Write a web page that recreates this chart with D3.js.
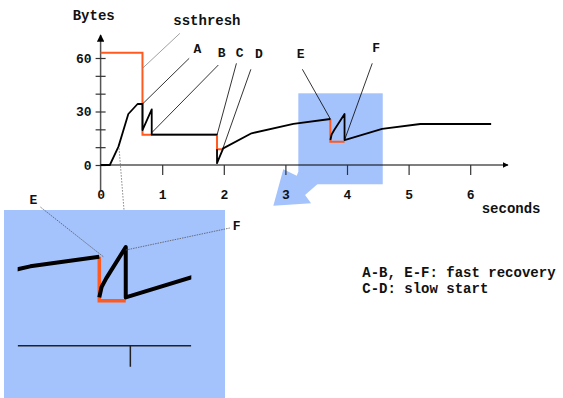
<!DOCTYPE html>
<html>
<head>
<meta charset="utf-8">
<script src="https://cdn.jsdelivr.net/npm/d3@7"></script>
<style>
  body { margin: 0; background: #fff; }
  svg text { font-family: "Liberation Mono", "Courier New", monospace; font-weight: bold; fill: #111; }
</style>
</head>
<body>
<div id="chart"></div>
<script>
// congestion window (black) in time (s) / size, null = gap
const cwndTime = [0, 0.15, 0.29, 0.45, 0.6, 0.68, 0.68, 0.83, 0.83, 1.89, null, 1.89, 1.89, 1.99, 2.45, 3.13, 3.73, null, 3.73, 3.75, 3.79, 3.96, 3.96, 4.57, 5.19, 6.34];
const cwndValue = [0, 0, 10.3, 28.6, 34.2, 34.2, 19.6, 31.2, 17, 17, null, 8.8, 1, 9.3, 17.8, 23, 25.8, null, 14, 17, 19.5, 28.6, 14, 20.2, 23, 23];

// ssthresh (orange), null = gap
const ssTime = [0, 0.68, 0.68, 1.89, 1.89, 1.99, null, 3.73, 3.73, 3.96];
const ssValue = [63, 63, 17, 17, 8.8, 8.8, null, 25.8, 13, 13];

const xTicks = [0, 1, 2, 3, 4, 5, 6];
const yTicks = [0, 10, 20, 30, 40, 50, 60];
const yLabels = [0, 30, 60];

const notes = [
  { text: 'A', t: 0.68, v: 34.2 },
  { text: 'B', t: 0.83, v: 18.1 },
  { text: 'C', t: 1.89, v: 16.8 },
  { text: 'D', t: 1.98, v: 8.8 },
  { text: 'E', t: 3.73, v: 25.8 },
  { text: 'F', t: 3.96, v: 14 }
];
const legendLines = ['A-B, E-F: fast recovery', 'C-D: slow start'];

const cwnd = cwndTime.map((t, i) => ({ t: t, v: cwndValue[i] }));
const ss = ssTime.map((t, i) => ({ t: t, v: ssValue[i] }));

const width = 563;
const height = 398;
const orange = '#ff5a1f';
const blue = '#a4c2fc';

const svg = d3.select('#chart')
  .append('svg')
  .attr('width', width)
  .attr('height', height);

const x = d3.scaleLinear().domain([0, 6.5]).range([100.6, 501]);
const y = d3.scaleLinear().domain([0, 60]).range([165, 58]);

// highlight box + arrow toward the inset
const hx0 = x(3.21), hx1 = x(4.58), hy0 = y(40.2), hy1 = y(-10.8);
svg.append('rect')
  .attr('x', hx0).attr('y', hy0)
  .attr('width', hx1 - hx0).attr('height', hy1 - hy0)
  .attr('fill', blue);

const arrowPts = [[0, -12.6], [-1.6, -8.6], [-15, -15], [-25, 21.4], [12.7, 19], [6.7, 10.7], [19, 0]];
svg.append('polygon')
  .attr('points', arrowPts.map(p => [hx0 + p[0], hy1 + p[1]].join(',')).join(' '))
  .attr('fill', blue);

// arrowheads
const defs = svg.append('defs');
defs.append('marker')
  .attr('id', 'arr')
  .attr('viewBox', '0 0 10 10')
  .attr('refX', 9).attr('refY', 5)
  .attr('markerWidth', 5).attr('markerHeight', 5)
  .attr('orient', 'auto-start-reverse')
  .append('path').attr('d', 'M0,0 L10,5 L0,10 z').attr('fill', '#000');

// x axis
svg.append('line')
  .attr('x1', x(0)).attr('x2', 508)
  .attr('y1', y(0)).attr('y2', y(0))
  .attr('stroke', '#000').attr('stroke-width', 1.2)
  .attr('marker-end', 'url(#arr)');

const xAxis = svg.append('g')
  .attr('transform', `translate(0,${y(0)})`)
  .call(d3.axisBottom(x).tickValues(xTicks).tickSize(10).tickFormat(d3.format('d')));
xAxis.select('.domain').remove();
xAxis.selectAll('.tick line').attr('stroke', '#333').attr('stroke-width', 1.2)
  .filter(d => d === 0).remove();
xAxis.selectAll('.tick text')
  .attr('y', 29).attr('dy', '0.35em')
  .attr('font-size', 13);

svg.append('text')
  .attr('x', 481.7).attr('y', 207.7).attr('dy', '0.35em')
  .attr('font-size', 14)
  .text('seconds');

// y axis
svg.append('line')
  .attr('x1', x(0)).attr('x2', x(0))
  .attr('y1', 190).attr('y2', 35)
  .attr('stroke', '#555').attr('stroke-width', 1.5)
  .attr('marker-end', 'url(#arr)');

const yAxis = svg.append('g')
  .attr('transform', `translate(${x(0)},0)`)
  .call(d3.axisLeft(y).tickValues(yTicks).tickSize(5)
    .tickFormat(d => yLabels.includes(d) ? d : ''));
yAxis.select('.domain').remove();
yAxis.selectAll('.tick line').attr('x1', 5).attr('stroke', '#333').attr('stroke-width', 1.2);
yAxis.selectAll('.tick text').attr('x', -9).attr('font-size', 13);

svg.append('text')
  .attr('x', 72.7).attr('y', 15).attr('dy', '0.35em')
  .attr('font-size', 14)
  .text('Bytes');

// lines
const line = d3.line()
  .defined(d => d.t !== null)
  .x(d => x(d.t))
  .y(d => y(d.v));

svg.append('path')
  .datum(ss)
  .attr('d', line)
  .attr('fill', 'none').attr('stroke', orange).attr('stroke-width', 2);

svg.append('path')
  .datum(cwnd)
  .attr('d', line)
  .attr('fill', 'none').attr('stroke', '#000').attr('stroke-width', 1.8)
  .attr('stroke-linejoin', 'round');

// annotations
const offsets = { A: [46.7, -45.7, 55, -56], B: [66.6, -67.7, 70, -80], C: [19.4, -71.7, 22.7, -82.3],
  D: [28.3, -80, 36.3, -96.3], E: [-28, -49.7, -29.7, -65.7], F: [27.7, -76.7, 31.7, -92.7] };
notes.forEach(n => {
  const o = offsets[n.text];
  const px = x(n.t), py = y(n.v);
  svg.append('line')
    .attr('x1', px).attr('y1', py)
    .attr('x2', px + o[0]).attr('y2', py + o[1])
    .attr('stroke', '#000').attr('stroke-width', 0.8);
  svg.append('text')
    .attr('x', px + o[2]).attr('y', py + o[3])
    .attr('dy', '0.35em').attr('text-anchor', 'middle')
    .attr('font-size', 13)
    .text(n.text);
});

svg.append('line')
  .attr('x1', x(0.68)).attr('y1', y(54.2))
  .attr('x2', x(0.68) + 37.4).attr('y2', y(54.2) - 35)
  .attr('stroke', '#888').attr('stroke-width', 0.8);
svg.append('text')
  .attr('x', 173.3).attr('y', 20).attr('dy', '0.35em')
  .attr('font-size', 14)
  .text('ssthresh');

// dotted link to inset
svg.append('line')
  .attr('x1', x(0.3)).attr('y1', y(9.4))
  .attr('x2', 124).attr('y2', 210)
  .attr('stroke', '#666').attr('stroke-width', 0.8)
  .attr('stroke-dasharray', '1.5,1.5');

// inset (zoom of E-F)
const inset = { x0: 4, y0: 210, x1: 225, y1: 398 };
svg.append('rect')
  .attr('x', inset.x0).attr('y', inset.y0)
  .attr('width', inset.x1 - inset.x0).attr('height', inset.y1 - inset.y0)
  .attr('fill', blue);

const ix = d3.scaleLinear().domain([3.73, 4.73]).range([99.3, 214.3]);
const iy = d3.scaleLinear().domain([0, 10]).range([345.7, 311.2]);

defs.append('clipPath').attr('id', 'insetClip')
  .append('rect')
  .attr('x', ix(3.02)).attr('y', inset.y0)
  .attr('width', ix(4.53) - ix(3.02)).attr('height', inset.y1 - inset.y0);

const iline = d3.line()
  .defined(d => d.t !== null)
  .x(d => ix(d.t))
  .y(d => iy(d.v));

const ig = svg.append('g').attr('clip-path', 'url(#insetClip)');
ig.append('line')
  .attr('x1', ix(3.02)).attr('x2', ix(4.53))
  .attr('y1', iy(0)).attr('y2', iy(0))
  .attr('stroke', '#222').attr('stroke-width', 1.5);
ig.append('line')
  .attr('x1', ix(4)).attr('x2', ix(4))
  .attr('y1', iy(0)).attr('y2', iy(0) + 21)
  .attr('stroke', '#222').attr('stroke-width', 1.5);
ig.append('path')
  .datum(ss)
  .attr('d', iline)
  .attr('fill', 'none').attr('stroke', orange).attr('stroke-width', 3.5);
ig.append('path')
  .datum(cwnd)
  .attr('d', iline)
  .attr('fill', 'none').attr('stroke', '#000').attr('stroke-width', 4)
  .attr('stroke-linejoin', 'round');

// inset labels
const ex = ix(3.73), ey = iy(25.8);
svg.append('line')
  .attr('x1', ex + 4).attr('y1', ey)
  .attr('x2', ex - 59.3).attr('y2', ey - 50)
  .attr('stroke', '#555').attr('stroke-width', 0.8).attr('stroke-dasharray', '1.5,1');
svg.append('text')
  .attr('x', ex - 66).attr('y', ey - 57.5).attr('dy', '0.35em')
  .attr('text-anchor', 'middle').attr('font-size', 13)
  .text('E');

const fx = ix(3.96), fy = iy(28.6);
svg.append('line')
  .attr('x1', fx).attr('y1', fy + 3)
  .attr('x2', fx + 104).attr('y2', fy - 19)
  .attr('stroke', '#555').attr('stroke-width', 0.8).attr('stroke-dasharray', '1.5,1');
svg.append('text')
  .attr('x', fx + 111).attr('y', fy - 22).attr('dy', '0.35em')
  .attr('text-anchor', 'middle').attr('font-size', 13)
  .text('F');

// legend
svg.selectAll('text.legend')
  .data(legendLines)
  .join('text')
  .attr('class', 'legend')
  .attr('x', 362.3)
  .attr('y', (d, i) => 271.7 + i * 16.7)
  .attr('dy', '0.35em')
  .attr('font-size', 14)
  .text(d => d);
</script>
</body>
</html>
